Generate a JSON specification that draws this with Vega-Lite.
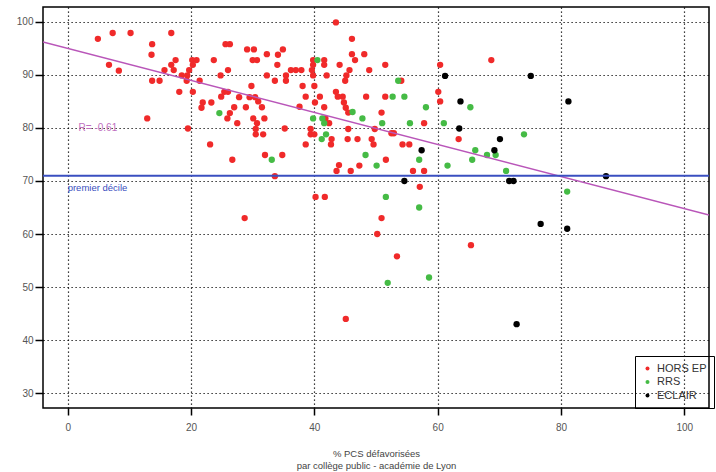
{
  "$schema": "https://vega.github.io/schema/vega-lite/v6.json",
  "width": 666,
  "height": 401,
  "autosize": {"type": "none"},
  "padding": {"left": 43, "top": 7, "right": 7, "bottom": 64},
  "background": "white",
  "config": {
    "view": {"stroke": "#000", "strokeWidth": 1.5},
    "font": "Liberation Sans"
  },
  "encoding": {
    "x": {
      "field": "x", "type": "quantitative",
      "scale": {"domain": [-4, 104], "nice": false, "zero": false},
      "axis": {
        "values": [0, 20, 40, 60, 80, 100],
        "grid": true, "gridDash": [1.2, 2.8], "gridColor": "#000", "gridWidth": 1.2,
        "domain": false, "tickSize": 7, "tickColor": "#000", "tickWidth": 1.5,
        "labelFont": "Liberation Sans", "labelFontSize": 10, "labelColor": "#555", "labelPadding": 7,
        "title": ["% PCS défavorisées", "par collège public - académie de Lyon"],
        "titleFont": "Liberation Sans", "titleFontSize": 9.5, "titleFontWeight": "normal",
        "titleColor": "#444", "titlePadding": 16, "titleLineHeight": 12
      }
    },
    "y": {
      "field": "y", "type": "quantitative",
      "scale": {"domain": [27.2, 102.8], "nice": false, "zero": false},
      "axis": {
        "values": [30, 40, 50, 60, 70, 80, 90, 100],
        "grid": true, "gridDash": [1.2, 2.8], "gridColor": "#000", "gridWidth": 1.2,
        "domain": false, "tickSize": 8, "tickColor": "#000", "tickWidth": 1.5,
        "labelFont": "Liberation Sans", "labelFontSize": 10, "labelColor": "#555", "labelPadding": 2,
        "title": null
      }
    }
  },
  "layer": [
    {
      "data": {"values": [
        {"x":4.9,"y":96.8,"g":"HORS EP"},{"x":7.3,"y":97.9,"g":"HORS EP"},{"x":10.2,"y":97.9,"g":"HORS EP"},{"x":6.7,"y":91.9,"g":"HORS EP"},{"x":8.3,"y":90.8,"g":"HORS EP"},{"x":12.9,"y":81.8,"g":"HORS EP"},
        {"x":16.8,"y":97.9,"g":"HORS EP"},{"x":13.7,"y":95.8,"g":"HORS EP"},{"x":13.6,"y":93.8,"g":"HORS EP"},{"x":17.5,"y":92.8,"g":"HORS EP"},{"x":16.8,"y":91.9,"g":"HORS EP"},{"x":15.7,"y":90.9,"g":"HORS EP"},{"x":17.2,"y":90.9,"g":"HORS EP"},{"x":13.7,"y":88.9,"g":"HORS EP"},{"x":14.9,"y":88.9,"g":"HORS EP"},{"x":20.2,"y":92.8,"g":"HORS EP"},{"x":20.9,"y":92.8,"g":"HORS EP"},{"x":19.7,"y":90.9,"g":"HORS EP"},{"x":20.3,"y":91.9,"g":"HORS EP"},{"x":23.7,"y":92.8,"g":"HORS EP"},{"x":25.6,"y":95.8,"g":"HORS EP"},{"x":26.3,"y":95.8,"g":"HORS EP"},{"x":26.0,"y":90.9,"g":"HORS EP"},{"x":24.8,"y":89.9,"g":"HORS EP"},{"x":29.1,"y":94.8,"g":"HORS EP"},{"x":30.2,"y":94.8,"g":"HORS EP"},{"x":30.0,"y":92.8,"g":"HORS EP"},{"x":30.7,"y":92.8,"g":"HORS EP"},{"x":32.3,"y":93.9,"g":"HORS EP"},{"x":32.3,"y":89.9,"g":"HORS EP"},{"x":29.8,"y":87.9,"g":"HORS EP"},{"x":25.4,"y":86.8,"g":"HORS EP"},{"x":26.0,"y":86.8,"g":"HORS EP"},{"x":24.9,"y":85.9,"g":"HORS EP"},{"x":27.8,"y":85.8,"g":"HORS EP"},{"x":23.3,"y":84.8,"g":"HORS EP"},{"x":21.9,"y":84.8,"g":"HORS EP"},{"x":21.7,"y":83.8,"g":"HORS EP"},{"x":27.0,"y":83.9,"g":"HORS EP"},{"x":28.9,"y":83.9,"g":"HORS EP"},{"x":26.3,"y":82.8,"g":"HORS EP"},{"x":29.5,"y":85.8,"g":"HORS EP"},{"x":30.4,"y":85.8,"g":"HORS EP"},{"x":30.9,"y":85.0,"g":"HORS EP"},{"x":31.5,"y":83.9,"g":"HORS EP"},{"x":18.1,"y":86.8,"g":"HORS EP"},{"x":20.3,"y":86.8,"g":"HORS EP"},{"x":18.5,"y":89.9,"g":"HORS EP"},{"x":19.4,"y":89.9,"g":"HORS EP"},{"x":19.3,"y":88.9,"g":"HORS EP"},{"x":21.4,"y":88.9,"g":"HORS EP"},
        {"x":25.9,"y":81.8,"g":"HORS EP"},{"x":27.5,"y":80.9,"g":"HORS EP"},{"x":30.1,"y":81.8,"g":"HORS EP"},{"x":30.7,"y":80.9,"g":"HORS EP"},{"x":31.9,"y":81.8,"g":"HORS EP"},{"x":30.5,"y":79.8,"g":"HORS EP"},{"x":30.5,"y":78.8,"g":"HORS EP"},{"x":31.7,"y":78.8,"g":"HORS EP"},{"x":32.0,"y":74.9,"g":"HORS EP"},{"x":19.5,"y":79.9,"g":"HORS EP"},{"x":23.1,"y":76.9,"g":"HORS EP"},{"x":26.7,"y":74.0,"g":"HORS EP"},
        {"x":43.5,"y":99.9,"g":"HORS EP"},{"x":46.1,"y":96.8,"g":"HORS EP"},{"x":34.9,"y":94.8,"g":"HORS EP"},{"x":34.1,"y":93.8,"g":"HORS EP"},{"x":34.0,"y":91.9,"g":"HORS EP"},{"x":33.6,"y":88.9,"g":"HORS EP"},{"x":35.4,"y":89.9,"g":"HORS EP"},{"x":35.4,"y":88.9,"g":"HORS EP"},{"x":36.2,"y":90.9,"g":"HORS EP"},{"x":37.0,"y":90.9,"g":"HORS EP"},{"x":37.9,"y":90.9,"g":"HORS EP"},{"x":39.6,"y":90.9,"g":"HORS EP"},{"x":39.8,"y":89.9,"g":"HORS EP"},{"x":39.8,"y":92.8,"g":"HORS EP"},{"x":41.6,"y":92.8,"g":"HORS EP"},{"x":41.6,"y":91.9,"g":"HORS EP"},{"x":39.8,"y":91.9,"g":"HORS EP"},{"x":42.0,"y":89.9,"g":"HORS EP"},{"x":38.1,"y":87.9,"g":"HORS EP"},{"x":40.0,"y":87.9,"g":"HORS EP"},{"x":38.6,"y":85.9,"g":"HORS EP"},{"x":37.6,"y":84.0,"g":"HORS EP"},{"x":40.9,"y":85.9,"g":"HORS EP"},{"x":41.6,"y":83.9,"g":"HORS EP"},{"x":40.1,"y":84.8,"g":"HORS EP"},{"x":44.1,"y":91.9,"g":"HORS EP"},{"x":45.2,"y":89.9,"g":"HORS EP"},{"x":45.0,"y":88.9,"g":"HORS EP"},{"x":45.7,"y":90.9,"g":"HORS EP"},{"x":46.1,"y":93.9,"g":"HORS EP"},{"x":46.6,"y":92.8,"g":"HORS EP"},{"x":48.1,"y":93.9,"g":"HORS EP"},{"x":48.9,"y":90.9,"g":"HORS EP"},{"x":48.4,"y":85.9,"g":"HORS EP"},{"x":43.5,"y":86.8,"g":"HORS EP"},{"x":43.8,"y":85.9,"g":"HORS EP"},{"x":44.6,"y":85.9,"g":"HORS EP"},{"x":44.8,"y":84.8,"g":"HORS EP"},{"x":45.1,"y":83.8,"g":"HORS EP"},
        {"x":45.5,"y":82.9,"g":"HORS EP"},{"x":41.8,"y":81.8,"g":"HORS EP"},{"x":42.4,"y":80.9,"g":"HORS EP"},{"x":35.2,"y":79.9,"g":"HORS EP"},{"x":39.4,"y":79.8,"g":"HORS EP"},{"x":39.4,"y":78.8,"g":"HORS EP"},{"x":40.0,"y":78.8,"g":"HORS EP"},{"x":42.8,"y":77.9,"g":"HORS EP"},{"x":42.7,"y":76.9,"g":"HORS EP"},{"x":38.6,"y":76.9,"g":"HORS EP"},{"x":45.5,"y":79.8,"g":"HORS EP"},{"x":45.4,"y":77.9,"g":"HORS EP"},{"x":47.0,"y":77.9,"g":"HORS EP"},{"x":49.3,"y":77.9,"g":"HORS EP"},{"x":49.6,"y":76.9,"g":"HORS EP"},{"x":49.8,"y":79.8,"g":"HORS EP"},{"x":34.8,"y":74.9,"g":"HORS EP"},{"x":44.0,"y":73.0,"g":"HORS EP"},{"x":43.6,"y":71.9,"g":"HORS EP"},{"x":45.9,"y":71.9,"g":"HORS EP"},{"x":47.3,"y":72.9,"g":"HORS EP"},{"x":33.6,"y":70.9,"g":"HORS EP"},{"x":40.2,"y":67.0,"g":"HORS EP"},{"x":41.7,"y":67.0,"g":"HORS EP"},
        {"x":51.5,"y":91.9,"g":"HORS EP"},{"x":54.1,"y":88.9,"g":"HORS EP"},{"x":51.5,"y":85.9,"g":"HORS EP"},{"x":50.9,"y":82.9,"g":"HORS EP"},{"x":52.5,"y":79.0,"g":"HORS EP"},{"x":52.9,"y":79.0,"g":"HORS EP"},{"x":54.3,"y":76.9,"g":"HORS EP"},{"x":55.4,"y":76.9,"g":"HORS EP"},{"x":57.8,"y":80.9,"g":"HORS EP"},{"x":51.6,"y":74.0,"g":"HORS EP"},{"x":56.0,"y":71.9,"g":"HORS EP"},{"x":57.8,"y":71.9,"g":"HORS EP"},{"x":57.1,"y":68.9,"g":"HORS EP"},{"x":60.4,"y":91.9,"g":"HORS EP"},{"x":60.1,"y":86.8,"g":"HORS EP"},{"x":60.4,"y":85.0,"g":"HORS EP"},{"x":68.7,"y":92.8,"g":"HORS EP"},{"x":63.4,"y":77.9,"g":"HORS EP"},
        {"x":28.7,"y":63.0,"g":"HORS EP"},{"x":50.9,"y":63.0,"g":"HORS EP"},{"x":50.2,"y":60.0,"g":"HORS EP"},{"x":53.4,"y":55.8,"g":"HORS EP"},{"x":65.4,"y":57.9,"g":"HORS EP"},{"x":45.1,"y":44.0,"g":"HORS EP"},
        {"x":24.6,"y":82.8,"g":"RRS"},{"x":40.5,"y":92.8,"g":"RRS"},{"x":46.2,"y":83.0,"g":"RRS"},{"x":47.8,"y":81.8,"g":"RRS"},{"x":39.8,"y":81.8,"g":"RRS"},{"x":41.3,"y":81.8,"g":"RRS"},{"x":41.6,"y":80.9,"g":"RRS"},{"x":41.9,"y":78.8,"g":"RRS"},{"x":41.2,"y":77.9,"g":"RRS"},{"x":33.1,"y":74.0,"g":"RRS"},{"x":48.3,"y":74.9,"g":"RRS"},{"x":50.1,"y":72.9,"g":"RRS"},
        {"x":53.6,"y":88.9,"g":"RRS"},{"x":52.7,"y":85.9,"g":"RRS"},{"x":54.6,"y":85.9,"g":"RRS"},{"x":51.0,"y":80.9,"g":"RRS"},{"x":55.5,"y":80.9,"g":"RRS"},{"x":57.0,"y":74.0,"g":"RRS"},{"x":58.1,"y":83.9,"g":"RRS"},{"x":51.6,"y":67.0,"g":"RRS"},{"x":65.3,"y":83.9,"g":"RRS"},{"x":61.0,"y":80.9,"g":"RRS"},{"x":61.6,"y":72.9,"g":"RRS"},{"x":66.1,"y":75.8,"g":"RRS"},{"x":65.6,"y":74.0,"g":"RRS"},{"x":68.0,"y":74.9,"g":"RRS"},{"x":69.4,"y":74.9,"g":"RRS"},{"x":71.1,"y":71.9,"g":"RRS"},{"x":74.0,"y":78.8,"g":"RRS"},{"x":81.0,"y":68.0,"g":"RRS"},{"x":57.0,"y":65.0,"g":"RRS"},{"x":51.9,"y":50.8,"g":"RRS"},{"x":58.6,"y":51.8,"g":"RRS"},
        {"x":57.4,"y":75.8,"g":"ECLAIR"},{"x":54.6,"y":70.0,"g":"ECLAIR"},{"x":61.2,"y":89.8,"g":"ECLAIR"},{"x":63.7,"y":85.0,"g":"ECLAIR"},{"x":63.5,"y":79.9,"g":"ECLAIR"},{"x":69.2,"y":75.8,"g":"ECLAIR"},{"x":70.1,"y":77.9,"g":"ECLAIR"},{"x":71.6,"y":70.0,"g":"ECLAIR"},{"x":72.3,"y":70.0,"g":"ECLAIR"},{"x":75.1,"y":89.8,"g":"ECLAIR"},{"x":81.2,"y":85.0,"g":"ECLAIR"},{"x":87.3,"y":70.9,"g":"ECLAIR"},{"x":76.7,"y":61.9,"g":"ECLAIR"},{"x":81.0,"y":61.0,"g":"ECLAIR"},{"x":72.8,"y":43.0,"g":"ECLAIR"}
      ]},
      "mark": {"type": "circle", "size": 40, "opacity": 1},
      "encoding": {
        "color": {
          "field": "g", "type": "nominal",
          "scale": {"domain": ["HORS EP", "RRS", "ECLAIR"], "range": ["#f02a2a", "#45bb45", "#000000"]},
          "legend": {
            "orient": "none", "legendX": 592, "legendY": 349, "direction": "vertical",
            "title": null, "strokeColor": "#000", "padding": 7,
            "symbolType": "circle", "symbolSize": 16, "symbolStrokeWidth": 0,
            "labelFont": "Liberation Sans", "labelFontSize": 11, "labelColor": "#333",
            "labelOffset": 4, "rowPadding": 1.5
          }
        }
      }
    },
    {
      "data": {"values": [{"x": -4, "y": 96.2}, {"x": 104, "y": 63.6}]},
      "mark": {"type": "line", "color": "#b956b9", "strokeWidth": 1.5, "clip": true},
      "encoding": {}
    },
    {
      "data": {"values": [{"x": -4, "y": 71}, {"x": 104, "y": 71}]},
      "mark": {"type": "line", "color": "#3a4fc0", "strokeWidth": 2, "clip": true},
      "encoding": {}
    },
    {
      "data": {"values": [{"x": 0, "y": 68.6, "t": "premier décile"}]},
      "mark": {"type": "text", "align": "left", "baseline": "middle", "color": "#3a4fc0", "fontSize": 9.5, "font": "Liberation Sans"},
      "encoding": {"text": {"field": "t"}}
    },
    {
      "data": {"values": [{"x": 4.9, "y": 79.9, "t": "R= -0.61"}]},
      "mark": {"type": "text", "align": "center", "baseline": "middle", "color": "#c070c0", "fontSize": 10, "font": "Liberation Sans"},
      "encoding": {"text": {"field": "t"}}
    }
  ]
}
